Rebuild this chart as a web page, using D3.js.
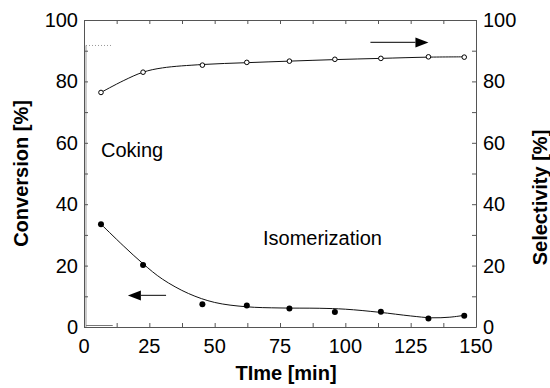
<!DOCTYPE html>
<html><head><meta charset="utf-8">
<script src="https://cdn.jsdelivr.net/npm/d3@7/dist/d3.min.js"></script>
<style>body{margin:0;background:#fff}svg{display:block}text{font-family:"Liberation Sans",Arial,sans-serif;fill:#000}</style>
</head><body>
<script>
// Data
const timePts = [6.5, 22.6, 45.3, 62.3, 78.6, 96, 113.6, 131.8, 145.5];
const selectivity = [76.4, 83.0, 85.3, 86.2, 86.6, 87.2, 87.5, 88.0, 87.9];
const conversion = [33.5, 20.2, 7.4, 7.0, 6.0, 4.9, 5.0, 2.8, 3.7];
// fitted curves
const selFitT = [6.5, 15, 22.6, 30, 45.3, 62.3, 78.6, 96, 113.6, 131.8, 145.5];
const selFitV = [76.4, 80.2, 83.0, 84.4, 85.5, 86.1, 86.6, 87.1, 87.5, 87.9, 88.0];
const convFitT = [6.5, 15, 22.6, 30, 40, 50, 62, 75, 90, 100, 113, 125, 133, 140, 145.5];
const convFitV = [33.5, 26.5, 20.6, 15.6, 10.9, 8.0, 6.6, 6.2, 6.1, 5.8, 4.8, 3.6, 3.0, 3.2, 3.8];
const xTicks = [0, 25, 50, 75, 100, 125, 150];
const yTicks = [0, 20, 40, 60, 80, 100];
const labels = [{text: "Coking", t: 6.5, v: 55.3}, {text: "Isomerization", t: 68.5, v: 26.7}];
const arrows = [{from: 109.6, to: 131.8, v: 92.7}, {from: 31.4, to: 16.8, v: 10.3}];

const W = 550, H = 388;
const m = {l: 84, r: 74, t: 20, b: 61};
const svg = d3.select("body").append("svg").attr("width", W).attr("height", H);
const x = d3.scaleLinear().domain([0, 150]).range([m.l, W - m.r]);
const y = d3.scaleLinear().domain([0, 100]).range([H - m.b, m.t]);
const y2 = d3.scaleLinear().domain([0, 100]).range([H - m.b, m.t]);
const fs = 20;

// decorative gray artifacts near left axis
svg.append("line").attr("x1", x(0) + 2).attr("x2", x(0) + 2).attr("y1", y(91.7)).attr("y2", y(0)).attr("stroke", "#999").attr("stroke-width", 1);
svg.append("line").attr("x1", x(0) + 2).attr("x2", x(11)).attr("y1", y(91.7)).attr("y2", y(91.7)).attr("stroke", "#999").attr("stroke-dasharray", "1,2");
svg.append("line").attr("x1", x(0) + 2).attr("x2", x(11)).attr("y1", y(0) - 1.5).attr("y2", y(0) - 1.5).attr("stroke", "#777");

// axes (inward ticks)
const minorX = d3.range(0, 150.1, 12.5);
const minorY = d3.range(0, 100.1, 10);
const gB = svg.append("g").attr("transform", `translate(0,${y(0)})`)
  .call(d3.axisBottom(x).tickValues(minorX).tickSizeInner(-4).tickSizeOuter(0).tickFormat(""));
const gT = svg.append("g").attr("transform", `translate(0,${y(100)})`)
  .call(d3.axisTop(x).tickValues(minorX).tickSizeInner(-4).tickSizeOuter(0).tickFormat(""));
const gL = svg.append("g").attr("transform", `translate(${x(0)},0)`)
  .call(d3.axisLeft(y).tickValues(minorY).tickSizeInner(-4).tickSizeOuter(0).tickFormat(""));
const gR = svg.append("g").attr("transform", `translate(${x(150)},0)`)
  .call(d3.axisRight(y2).tickValues(minorY).tickSizeInner(-4).tickSizeOuter(0).tickFormat(""));
[gB, gT, gL, gR].forEach(g => { g.selectAll("path").attr("stroke", "#555"); g.selectAll("line").attr("stroke", "#555"); });

// tick labels
svg.selectAll(".xl").data(xTicks).join("text").attr("x", d => x(d)).attr("y", y(0) + 26)
  .attr("text-anchor", "middle").attr("font-size", fs).text(d => d);
svg.selectAll(".yl").data(yTicks).join("text").attr("x", x(0) - 6).attr("y", d => y(d) + 7)
  .attr("text-anchor", "end").attr("font-size", fs).text(d => d);
svg.selectAll(".yr").data(yTicks).join("text").attr("x", x(150) + 7).attr("y", d => y2(d) + 7)
  .attr("text-anchor", "start").attr("font-size", fs).text(d => d);

// axis titles
svg.append("text").attr("transform", `translate(28,${(y(0) + y(100)) / 2}) rotate(-90)`)
  .attr("text-anchor", "middle").attr("font-size", 20).attr("font-weight", "bold").text("Conversion [%]");
svg.append("text").attr("transform", `translate(547,${(y(0) + y(100)) / 2 + 24}) rotate(-90)`)
  .attr("text-anchor", "middle").attr("font-size", 20).attr("font-weight", "bold").text("Selectivity [%]");
svg.append("text").attr("x", 286).attr("y", 380).attr("text-anchor", "middle")
  .attr("font-size", 20).attr("font-weight", "bold").text("TIme [min]");

// fitted curves
const line = (ts, vs, sc) => d3.line().x((d, i) => x(ts[i])).y(d => sc(d)).curve(d3.curveCatmullRom)(vs);
svg.append("path").attr("d", line(selFitT, selFitV, y2)).attr("fill", "none").attr("stroke", "#111").attr("stroke-width", 1);
svg.append("path").attr("d", line(convFitT, convFitV, y)).attr("fill", "none").attr("stroke", "#111").attr("stroke-width", 1);

// points
svg.selectAll(".sp").data(selectivity).join("circle").attr("cx", (d, i) => x(timePts[i])).attr("cy", d => y2(d))
  .attr("r", 2.3).attr("fill", "#fff").attr("stroke", "#000").attr("stroke-width", 1);
svg.selectAll(".cp").data(conversion).join("circle").attr("cx", (d, i) => x(timePts[i])).attr("cy", d => y(d))
  .attr("r", 3).attr("fill", "#000");

// text labels
svg.selectAll(".lab").data(labels).join("text").attr("x", d => x(d.t)).attr("y", d => y(d.v))
  .attr("font-size", 20).text(d => d.text);

// arrows
arrows.forEach(a => {
  const dir = Math.sign(a.to - a.from);
  const tip = x(a.to), yy = y(a.v), hl = 13, hw = 5;
  svg.append("line").attr("x1", x(a.from)).attr("x2", tip - dir * hl).attr("y1", yy).attr("y2", yy).attr("stroke", "#333").attr("stroke-width", 1.2);
  svg.append("path").attr("d", `M${tip},${yy}L${tip - dir * hl},${yy - hw}L${tip - dir * hl},${yy + hw}Z`).attr("fill", "#000");
});
</script>
</body></html>
